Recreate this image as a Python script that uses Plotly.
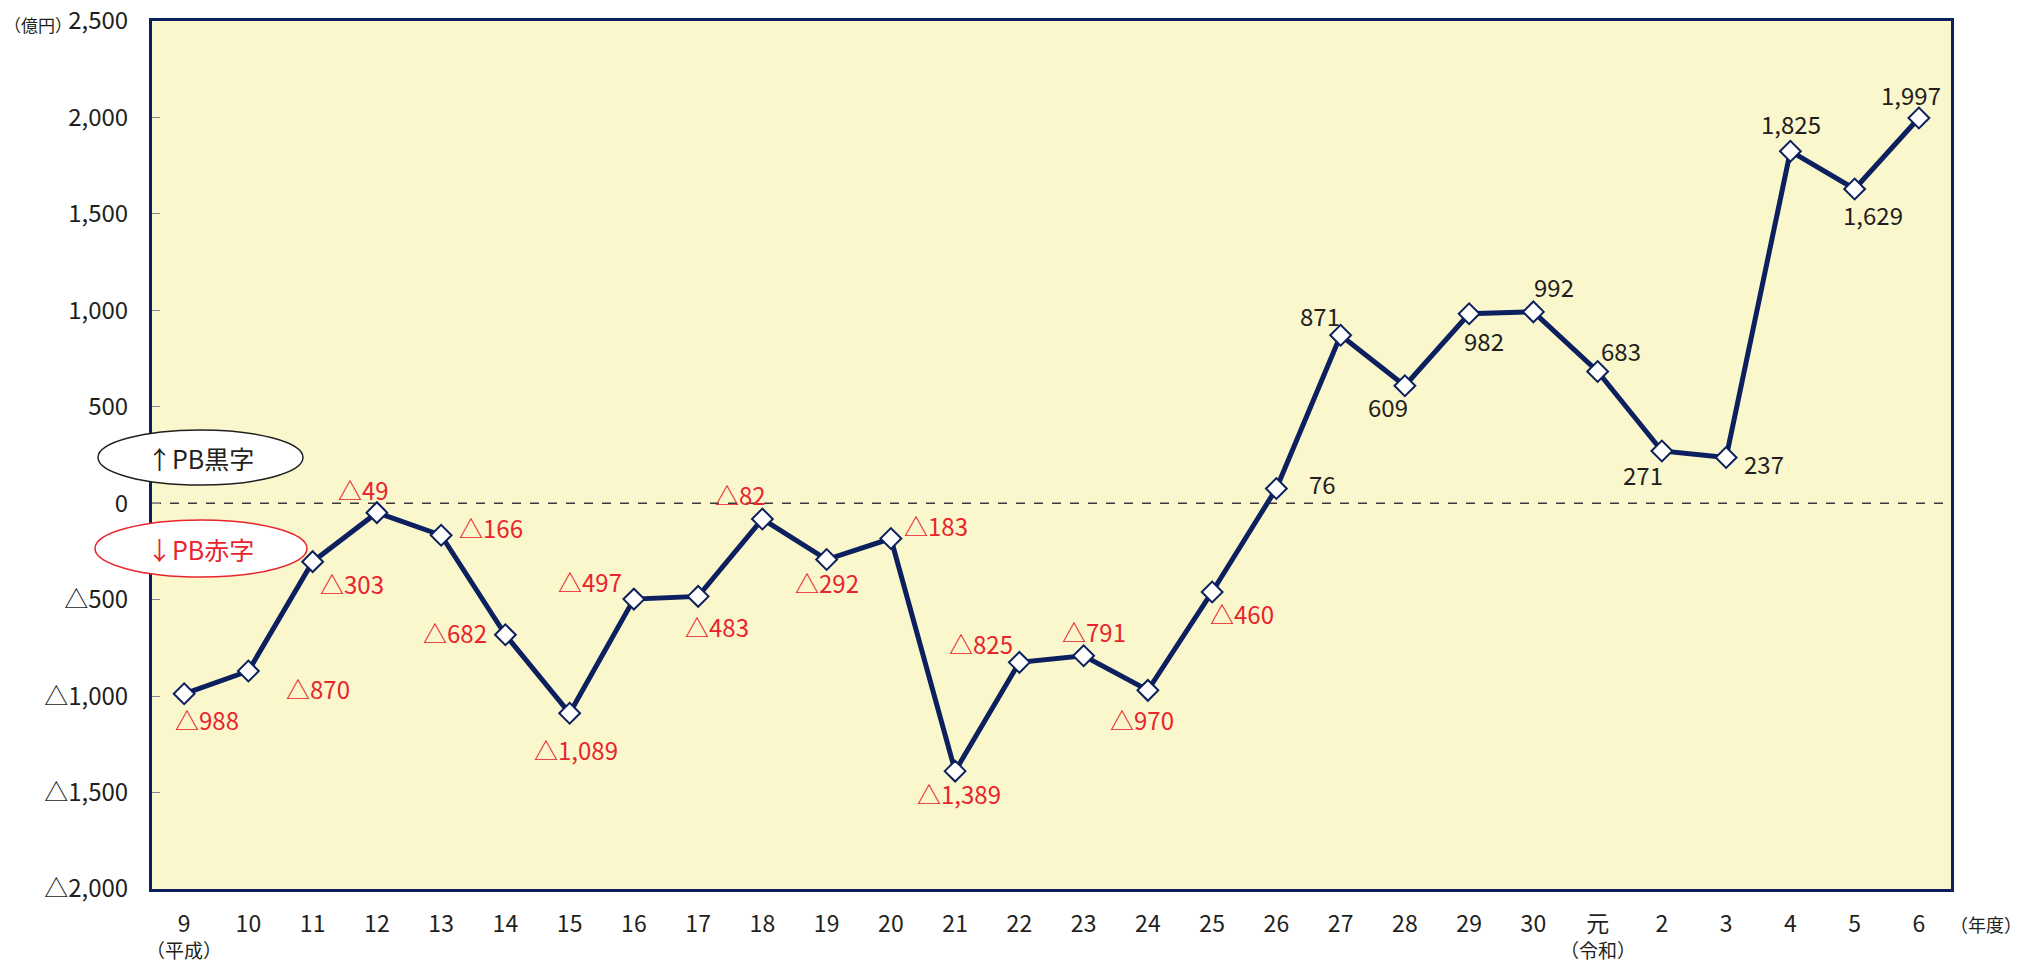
import plotly.graph_objects as go

years = ["9", "10", "11", "12", "13", "14", "15", "16", "17", "18", "19", "20", "21", "22",
         "23", "24", "25", "26", "27", "28", "29", "30", "元", "2", "3", "4", "5", "6"]
pb_balance = [-988, -870, -303, -49, -166, -682, -1089, -497, -483, -82, -292, -183, -1389, -825,
              -791, -970, -460, 76, 871, 609, 982, 992, 683, 271, 237, 1825, 1629, 1997]
y_ticks = [2500, 2000, 1500, 1000, 500, 0, -500, -1000, -1500, -2000]
era_labels = [(0, "（平成）"), (22, "（令和）")]

# label offsets (pixels) relative to each point
label_dx = [23, 70, 39, -13, 50, -50, 6, -44, 19, -22, 0, 45, 4, -38,
            10, -6, 30, 46, -21, -17, 15, 21, 23, -19, 38, 1, 18, -8]
label_dy = [-26, -17, -22, 23, 8, 2, -36, 18, -30, 25, -23, 13, -22, 19,
            24, -29, -22, 5, 20, -21, -27, 25, 21, -24, -6, 28, -25, 24]

FONT = "Noto Sans CJK JP"
NAVY = "#0c1f5e"
RED = "#e8242c"
DARK = "#231f20"

def fmt(v):
    if v < 0:
        return "△" + f"{-v:,}"
    return f"{v:,}"

L, R, T, B = 152, 73, 21, 75
W, H = 2024, 964
PW = W - L - R
PH = H - T - B
YMIN, YMAX = -2000, 2500

def px2paper_x(px):
    return (px - L) / PW

def py2paper_y(py):
    return (H - B - py) / PH

idx = list(range(len(years)))

fig = go.Figure()
fig.add_trace(go.Scatter(
    x=idx, y=pb_balance, mode="lines+markers",
    line=dict(color=NAVY, width=5),
    marker=dict(symbol="diamond", size=16, color="white", line=dict(color=NAVY, width=2)),
    text=years, hovertemplate="%{text}: %{y}<extra></extra>", showlegend=False,
))

annotations = []
for i, v in enumerate(pb_balance):
    annotations.append(dict(
        x=i, y=v, xref="x", yref="y", text=fmt(v), showarrow=False,
        xanchor="center", yanchor="middle",
        xshift=label_dx[i], yshift=label_dy[i],
        font=dict(family=FONT, size=24, color=RED if v < 0 else DARK),
    ))

for i, t in era_labels:
    annotations.append(dict(x=i, y=py2paper_y(949), xref="x", yref="paper", text=t, showarrow=False,
                            xanchor="center", yanchor="middle",
                            font=dict(family=FONT, size=19, color=DARK)))

annotations += [
    dict(x=px2paper_x(38), y=py2paper_y(24), xref="paper", yref="paper", text="（億円）", showarrow=False,
         xanchor="center", yanchor="middle", font=dict(family=FONT, size=17, color=DARK)),
    dict(x=px2paper_x(1986), y=py2paper_y(924), xref="paper", yref="paper", text="（年度）", showarrow=False,
         xanchor="center", yanchor="middle", font=dict(family=FONT, size=18, color=DARK)),
    dict(x=px2paper_x(200), y=py2paper_y(458), xref="paper", yref="paper", text="↑PB黒字", showarrow=False,
         xanchor="center", yanchor="middle", font=dict(family=FONT, size=25, color=DARK)),
    dict(x=px2paper_x(200), y=py2paper_y(549), xref="paper", yref="paper", text="↓PB赤字", showarrow=False,
         xanchor="center", yanchor="middle", font=dict(family=FONT, size=25, color=RED)),
]

shapes = [
    dict(type="line", xref="paper", yref="y", x0=0, x1=1, y0=0, y1=0,
         line=dict(color="#3a3a3a", width=1.5, dash="dash"), layer="below"),
    dict(type="circle", xref="paper", yref="paper", x0=px2paper_x(98), x1=px2paper_x(303),
         y0=py2paper_y(430), y1=py2paper_y(485), fillcolor="white", line=dict(color=DARK, width=1.5)),
    dict(type="circle", xref="paper", yref="paper", x0=px2paper_x(95), x1=px2paper_x(307),
         y0=py2paper_y(520), y1=py2paper_y(577), fillcolor="white", line=dict(color=RED, width=1.5)),
]

fig.update_layout(
    width=W, height=H,
    margin=dict(l=L, r=R, t=T, b=B, autoexpand=False),
    paper_bgcolor="white", plot_bgcolor="#faf7cd",
    annotations=annotations, shapes=shapes,
    font=dict(family=FONT, size=23, color=DARK),
    showlegend=False,
)
fig.update_xaxes(
    range=[-0.5, len(years) - 0.5], tickmode="array", tickvals=idx, ticktext=years,
    showgrid=False, zeroline=False, showline=True, linecolor=NAVY, linewidth=3, mirror=True,
    ticks="", tickfont=dict(family=FONT, size=23, color=DARK), ticklabelstandoff=12,
    automargin=False,
)
fig.update_yaxes(
    range=[YMIN, YMAX], tickmode="array", tickvals=y_ticks, ticktext=[fmt(v) for v in y_ticks],
    showgrid=False, zeroline=False, showline=True, linecolor=NAVY, linewidth=3, mirror=True,
    ticks="inside", ticklen=8, tickcolor="#888888", tickwidth=1,
    tickfont=dict(family=FONT, size=24, color=DARK), ticklabelstandoff=16,
    automargin=False,
)

fig.write_html("out.html", config={"displayModeBar": False},
               post_script="document.body.style.margin='0';")
